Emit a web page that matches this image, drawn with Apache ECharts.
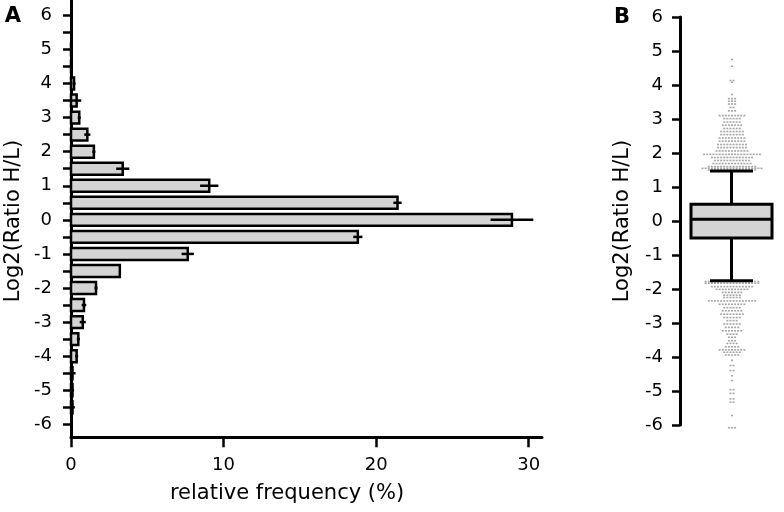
<!DOCTYPE html>
<html>
<head>
<meta charset="utf-8">
<script src="https://cdn.jsdelivr.net/npm/echarts@6/dist/echarts.min.js"></script>
<style>
  html, body { margin: 0; padding: 0; background: #fff; }
  #chart { width: 784px; height: 512px; }
</style>
</head>
<body>
<div id="chart"></div>
<script>
// ---- panel A: histogram of log2 ratios (bin centre, mean %, error) ----
const binCenters = [6, 5.5, 5, 4.5, 4, 3.5, 3, 2.5, 2, 1.5, 1, 0.5, 0, -0.5, -1, -1.5, -2, -2.5, -3, -3.5, -4, -4.5, -5, -5.5, -6];
const binFreq    = [0, 0, 0.05, 0.02, 0.2, 0.37, 0.54, 1.07, 1.5, 3.39, 9.06, 21.4, 28.9, 18.8, 7.65, 3.2, 1.64, 0.85, 0.77, 0.48, 0.37, 0.1, 0.1, 0.1, 0];
const binErr     = [0, 0, 0.05, 0, 0.1, 0.3, 0.1, 0.2, 0.1, 0.43, 0.6, 0.27, 1.4, 0.3, 0.4, 0.05, 0.1, 0.15, 0.2, 0.1, 0.1, 0.2, 0.1, 0.15, 0];

const yTicksA  = [-6, -5.5, -5, -4.5, -4, -3.5, -3, -2.5, -2, -1.5, -1, -0.5, 0, 0.5, 1, 1.5, 2, 2.5, 3, 3.5, 4, 4.5, 5, 5.5, 6];
const yLabelsA = [-6, -5, -4, -3, -2, -1, 0, 1, 2, 3, 4, 5, 6];
const xLabelsA = [0, 10, 20, 30];

// ---- panel B: box plot (min whisker, q1, median, q3, max whisker) ----
const boxStats = [-1.76, -0.5, 0.05, 0.49, 1.47];
const yLabelsB = [-6, -5, -4, -3, -2, -1, 0, 1, 2, 3, 4, 5, 6];

// outliers as beeswarm rows: level and number of dots in that row
const outlierLevels = [4.75, 4.55, 4.13, 4.08, 3.72, 3.6, 3.52, 3.44, 3.34, 3.24, 3.1, 3.01, 2.91, 2.82, 2.72, 2.63, 2.54, 2.44, 2.35, 2.25, 2.16, 2.06, 1.96, 1.87, 1.78, 1.69, 1.6, 1.55, 1.5,
  -1.78, -1.83, -1.93, -2.01, -2.1, -2.18, -2.25, -2.35, -2.45, -2.55, -2.64, -2.74, -2.84, -2.93, -3.03, -3.13, -3.23, -3.33, -3.42, -3.52, -3.6, -3.7, -3.79, -3.86, -3.94,
  -4.1, -4.25, -4.4, -4.55, -4.69, -4.96, -5.07, -5.23, -5.33, -5.72, -6.08];
const outlierCounts = [1, 1, 2, 1, 1, 3, 3, 3, 2, 3, 9, 6, 6, 7, 6, 8, 8, 9, 9, 10, 10, 11, 19, 14, 12, 13, 16, 20, 16,
  18, 18, 14, 11, 7, 6, 6, 16, 9, 6, 7, 8, 6, 4, 6, 5, 7, 4, 3, 3, 4, 5, 9, 6, 5,
  1, 2, 2, 1, 1, 2, 2, 2, 2, 1, 3];

const FONT = '"DejaVu Sans", "Liberation Sans", sans-serif';
const chart = echarts.init(document.getElementById('chart'));

const axisLineStyle = { color: '#000', width: 3 };
const tickStyle = { color: '#000', width: 2.5 };

const option = {
    animation: false,
    backgroundColor: '#fff',
    grid: [
        { left: 71, top: 0, width: 471, height: 437.3 },
        { left: 680, top: 17, width: 124, height: 408 }
    ],
    xAxis: [
        {
            gridIndex: 0, type: 'value', min: 0, max: 30.87,
            axisLine: { show: true, onZero: false, lineStyle: axisLineStyle },
            axisTick: { show: true, length: 10, lineStyle: tickStyle, customValues: xLabelsA },
            axisLabel: { color: '#000', fontSize: 18, fontFamily: FONT, margin: 19, customValues: xLabelsA },
            splitLine: { show: false }
        },
        {
            gridIndex: 1, type: 'value', min: 0, max: 2, show: false
        }
    ],
    yAxis: [
        {
            gridIndex: 0, type: 'value', min: -6.38, max: 6.45,
            axisLine: { show: true, onZero: false, lineStyle: axisLineStyle },
            axisTick: { show: true, length: 8, lineStyle: tickStyle, customValues: yTicksA },
            axisLabel: { color: '#000', fontSize: 18, fontFamily: FONT, margin: 19, customValues: yLabelsA },
            splitLine: { show: false }
        },
        {
            gridIndex: 1, type: 'value', min: -6, max: 6, interval: 1,
            axisLine: { show: true, onZero: false, lineStyle: axisLineStyle },
            axisTick: { show: true, length: 8, lineStyle: tickStyle, customValues: yLabelsB },
            axisLabel: { color: '#000', fontSize: 18, fontFamily: FONT, margin: 17, customValues: yLabelsB },
            splitLine: { show: false }
        }
    ],
    series: [
        {
            // histogram bars with horizontal error lines
            type: 'custom',
            xAxisIndex: 0, yAxisIndex: 0,
            encode: { x: 0, y: 1 },
            data: binCenters.map((c, i) => [binFreq[i], c, binErr[i]]),
            renderItem: function (params, api) {
                const v = api.value(0), y = api.value(1), e = api.value(2);
                const children = [];
                const h = api.size([0, 0.35])[1];
                if (v > 0) {
                    const p0 = api.coord([0, y]);
                    const p1 = api.coord([v, y]);
                    children.push({
                        type: 'rect',
                        shape: { x: p0[0], y: p0[1] - h / 2, width: p1[0] - p0[0], height: h },
                        style: { fill: '#d4d4d4', stroke: '#000', lineWidth: 2.5 }
                    });
                }
                if (e > 0) {
                    const lo = api.coord([Math.max(0, v - e), y]);
                    const hi = api.coord([v + e, y]);
                    children.push({
                        type: 'line',
                        shape: { x1: lo[0], y1: lo[1], x2: hi[0], y2: hi[1] },
                        style: { stroke: '#000', lineWidth: 2.5 }
                    });
                }
                return { type: 'group', children: children };
            },
            z: 3
        },
        {
            // outlier dots, one row per level
            type: 'custom',
            xAxisIndex: 1, yAxisIndex: 1,
            encode: { y: 0 },
            data: outlierLevels.map((l, i) => [l, outlierCounts[i]]),
            renderItem: function (params, api) {
                const level = api.value(0), n = api.value(1);
                const c = api.coord([1, level]);
                const pitch = 3.1;
                const dots = [];
                for (let k = 0; k < n; k++) {
                    const dx = (k - (n - 1) / 2) * pitch;
                    dots.push({
                        type: 'rect',
                        shape: { x: c[0] + dx - 1, y: c[1] - 0.8, width: 2, height: 1.6 },
                        style: { fill: '#a6a6a6' }
                    });
                }
                return { type: 'group', children: dots };
            },
            z: 2
        },
        {
            // box plot
            type: 'custom',
            xAxisIndex: 1, yAxisIndex: 1,
            encode: { y: [0, 1, 2, 3, 4] },
            data: [boxStats],
            renderItem: function (params, api) {
                const lo = api.coord([1, api.value(0)]);
                const q1 = api.coord([1, api.value(1)]);
                const med = api.coord([1, api.value(2)]);
                const q3 = api.coord([1, api.value(3)]);
                const hi = api.coord([1, api.value(4)]);
                const cx = q1[0] - 0.5;
                const half = 40.5, cap = 21.5;
                const ls = { stroke: '#000', lineWidth: 3 };
                return {
                    type: 'group',
                    children: [
                        { type: 'line', shape: { x1: cx, y1: hi[1], x2: cx, y2: q3[1] }, style: ls },
                        { type: 'line', shape: { x1: cx, y1: q1[1], x2: cx, y2: lo[1] }, style: ls },
                        { type: 'line', shape: { x1: cx - cap, y1: hi[1], x2: cx + cap, y2: hi[1] }, style: ls },
                        { type: 'line', shape: { x1: cx - cap, y1: lo[1], x2: cx + cap, y2: lo[1] }, style: ls },
                        { type: 'rect', shape: { x: cx - half, y: q3[1], width: 2 * half, height: q1[1] - q3[1] },
                          style: { fill: '#d4d4d4', stroke: '#000', lineWidth: 3 } },
                        { type: 'line', shape: { x1: cx - half, y1: med[1], x2: cx + half, y2: med[1] }, style: ls }
                    ]
                };
            },
            z: 4
        }
    ],
    graphic: [
        { type: 'text', x: 13, y: 17, style: { text: 'A', font: 'bold 21px ' + FONT, fill: '#000', align: 'center', verticalAlign: 'middle' } },
        { type: 'text', x: 622, y: 18, style: { text: 'B', font: 'bold 21px ' + FONT, fill: '#000', align: 'center', verticalAlign: 'middle' } },
        { type: 'text', x: 14, y: 221, rotation: Math.PI / 2,
          style: { text: 'Log2(Ratio H/L)', font: '21px ' + FONT, fill: '#000', align: 'center', verticalAlign: 'middle' } },
        { type: 'text', x: 623, y: 221, rotation: Math.PI / 2,
          style: { text: 'Log2(Ratio H/L)', font: '21px ' + FONT, fill: '#000', align: 'center', verticalAlign: 'middle' } },
        { type: 'text', x: 287, y: 494,
          style: { text: 'relative frequency (%)', font: '21px ' + FONT, fill: '#000', align: 'center', verticalAlign: 'middle' } }
    ]
};

chart.setOption(option);
</script>
</body>
</html>
